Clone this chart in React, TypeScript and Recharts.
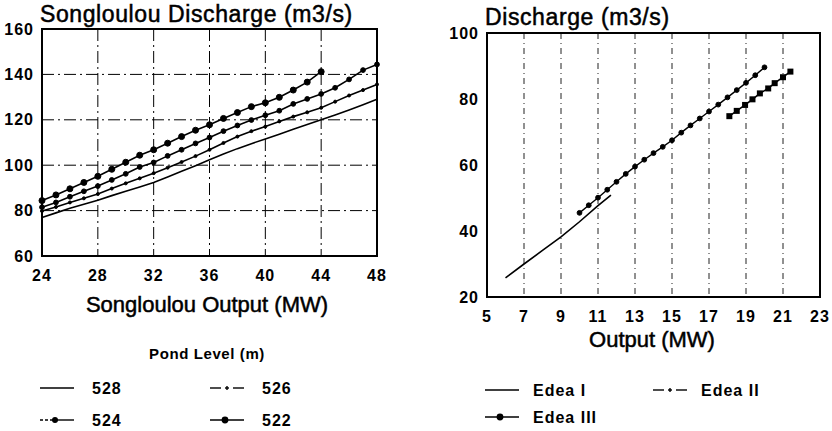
import React from 'react';
import {
  LineChart,
  Line,
  XAxis,
  YAxis,
  CartesianGrid,
  ReferenceArea,
  Legend,
} from 'recharts';

// Songloulou: discharge per output, one curve per pond level
const songloulouOutput = [24, 25, 26, 27, 28, 29, 30, 31, 32, 33, 34, 35, 36, 37, 38, 39, 40, 41, 42, 43, 44, 45, 46, 47, 48];
const pond528 = [77, 79, 81, 82.8, 84.6, 86.6, 88.5, 90.4, 92.4, 94.8, 97.3, 99.8, 102.4, 104.9, 107.3, 109.5, 111.5, 113.6, 115.8, 117.9, 120, 122.1, 124.3, 126.6, 129];
const pond526 = [79.8, 81.6, 83.6, 85.4, 87.3, 89.7, 92, 94.2, 96.5, 98.9, 101.4, 104, 106.8, 109.8, 112.6, 115, 117, 119.3, 121.4, 123.3, 125.3, 128, 130.7, 133.1, 135.6];
const pond524 = [81.5, 83.6, 86.1, 88.5, 90.8, 93.5, 96.2, 99.2, 101.2, 104.1, 106.8, 109.6, 112.2, 115, 117.5, 119.9, 122, 124, 127, 129.2, 131.4, 134.1, 137.8, 141.9, 144.4];
const pond522 = [84.4, 86.9, 89.6, 92.4, 95.1, 98.2, 101.3, 104.4, 106.8, 109.7, 112.6, 115.4, 117.8, 120.6, 123.2, 125.8, 127.5, 129.9, 133.1, 136.6, 141.2, null, null, null, null];

const songloulouXTicks = [24, 28, 32, 36, 40, 44, 48];
const songloulouYTicks = [60, 80, 100, 120, 140, 160];

// Edea plants
const edea1Output = [6, 7, 8, 9, 10, 11, 11.7];
const edea1Discharge = [25.8, 30, 34.1, 38.2, 42.8, 47.7, 50.9];
const edea2Output = [10, 10.5, 11, 11.5, 12, 12.5, 13, 13.5, 14, 14.5, 15, 15.5, 16, 16.5, 17, 17.5, 18, 18.5, 19, 19.5, 20];
const edea2Discharge = [45.5, 47.8, 50.1, 52.5, 54.9, 57.3, 59.5, 61.6, 63.6, 65.5, 67.5, 69.8, 72, 74.1, 76.2, 78.3, 80.5, 82.7, 84.9, 87.2, 89.6];
const edea3Output = [18.1, 18.5, 18.95, 19.35, 19.75, 20.2, 20.55, 21, 21.4];
const edea3Discharge = [74.8, 76.4, 78.2, 79.9, 81.7, 83.2, 84.8, 86.6, 88.3];

const edeaXTicks = [5, 7, 9, 11, 13, 15, 17, 19, 21, 23];
const edeaYTicks = [20, 40, 60, 80, 100];

const songloulouData = songloulouOutput.map((x, i) => ({
  x,
  p528: pond528[i],
  p526: pond526[i],
  p524: pond524[i],
  p522: pond522[i],
}));
const edea1 = edea1Output.map((x, i) => ({ x, y: edea1Discharge[i] }));
const edea2 = edea2Output.map((x, i) => ({ x, y: edea2Discharge[i] }));
const edea3 = edea3Output.map((x, i) => ({ x, y: edea3Discharge[i] }));

const FONT = '"Liberation Sans", Arial, sans-serif';
const tickStyle = { fill: '#000', fontSize: 16, fontWeight: 700, fontFamily: FONT, letterSpacing: 1 };
const titleStyle: React.CSSProperties = {
  position: 'absolute',
  fontSize: 22,
  lineHeight: 1,
  fontFamily: FONT,
  color: '#000',
  WebkitTextStroke: '0.5px #000',
  whiteSpace: 'nowrap',
};
const legendText: React.CSSProperties = {
  position: 'absolute',
  fontSize: 16,
  fontWeight: 700,
  fontFamily: FONT,
  letterSpacing: 1,
  lineHeight: 1,
  whiteSpace: 'nowrap',
};

// sample stroke for the legend
function Sample({ kind }: { kind: string }) {
  return (
    <svg width={34} height={10} style={{ display: 'block' }}>
      {kind === 'solid' && <line x1={0} y1={5} x2={34} y2={5} stroke="#000" strokeWidth={1.6} />}
      {kind === 'plus' && (
        <g stroke="#000" strokeWidth={1.4}>
          <line x1={0} y1={5} x2={11} y2={5} />
          <line x1={15} y1={5} x2={19} y2={5} />
          <line x1={17} y1={3} x2={17} y2={7} />
          <line x1={23} y1={5} x2={34} y2={5} />
        </g>
      )}
      {kind === 'dashdot' && (
        <g stroke="#000" strokeWidth={1.4}>
          <line x1={0} y1={5} x2={13} y2={5} strokeDasharray="3 2" />
          <line x1={13} y1={5} x2={34} y2={5} />
          <circle cx={15} cy={5} r={2.3} fill="#000" />
        </g>
      )}
      {kind === 'dot' && (
        <g stroke="#000" strokeWidth={1.6}>
          <line x1={0} y1={5} x2={34} y2={5} />
          <circle cx={15} cy={5} r={2.6} fill="#000" />
        </g>
      )}
    </svg>
  );
}

type Item = { name: string; kind: string; x: number; y: number };

const pondLegend: Item[] = [
  { name: '528', kind: 'solid', x: 40, y: 48 },
  { name: '526', kind: 'plus', x: 210, y: 48 },
  { name: '524', kind: 'dashdot', x: 40, y: 80 },
  { name: '522', kind: 'dot', x: 210, y: 80 },
];
const edeaLegend: Item[] = [
  { name: 'Edea I', kind: 'solid', x: 65, y: 50 },
  { name: 'Edea II', kind: 'plus', x: 233, y: 50 },
  { name: 'Edea III', kind: 'dot', x: 65, y: 77 },
];

function LegendBlock({ items, heading, width, textGap }: { items: Item[]; heading?: string; width: number; textGap: number }) {
  return (
    <div style={{ position: 'relative', width, height: 90 }}>
      {heading && (
        <div style={{ ...legendText, fontSize: 15, letterSpacing: 0.6, left: 0, width: 414, textAlign: 'center', top: 6 }}>
          {heading}
        </div>
      )}
      {items.map((it) => (
        <React.Fragment key={it.name}>
          <div style={{ position: 'absolute', left: it.x, top: it.y - 5 }}>
            <Sample kind={it.kind} />
          </div>
          <div style={{ ...legendText, left: it.x + textGap, top: it.y - 7 }}>{it.name}</div>
        </React.Fragment>
      ))}
    </div>
  );
}

function SonglouloulChart() {
  return (
    <div style={{ position: 'absolute', left: 0, top: 0, width: 400, height: 431 }}>
      <LineChart width={400} height={431} data={songloulouData} margin={{ top: 29, right: 23, left: 0, bottom: 145 }}>
        <CartesianGrid stroke="#000" strokeWidth={1} strokeDasharray="12 4 2 4" />
        <XAxis
          dataKey="x"
          type="number"
          domain={[24, 48]}
          ticks={songloulouXTicks}
          axisLine={false}
          tickLine={false}
          tickSize={6}
          tickMargin={8}
          height={30}
          tick={tickStyle}
        />
        <YAxis
          type="number"
          domain={[60, 160]}
          ticks={songloulouYTicks}
          axisLine={false}
          tickLine={false}
          width={42}
          tick={tickStyle}
        />
        <ReferenceArea x1={24} x2={48} y1={60} y2={160} fill="none" stroke="#000" strokeWidth={2} />
        <Line dataKey="p528" name="528" stroke="#000" strokeWidth={1.6} dot={false} isAnimationActive={false} />
        <Line dataKey="p526" name="526" stroke="#000" strokeWidth={1.6} dot={{ r: 1.5, fill: '#000', strokeWidth: 1 }} isAnimationActive={false} />
        <Line dataKey="p524" name="524" stroke="#000" strokeWidth={1.6} dot={{ r: 2.4, fill: '#000', strokeWidth: 1 }} isAnimationActive={false} />
        <Line dataKey="p522" name="522" stroke="#000" strokeWidth={1.6} dot={{ r: 3, fill: '#000', strokeWidth: 1 }} isAnimationActive={false} connectNulls={false} />
        <Legend
          layout="horizontal"
          verticalAlign="middle"
          wrapperStyle={{ left: 0, top: 340, width: 400 }}
          content={() => <LegendBlock items={pondLegend} heading="Pond Level (m)" width={400} textGap={52} />}
        />
      </LineChart>
      <div style={{ ...titleStyle, fontSize: 23, letterSpacing: 0.6, left: 40, top: 3 }}>Songloulou Discharge (m3/s)</div>
      <div style={{ ...titleStyle, left: 0, width: 414, textAlign: 'center', top: 294 }}>Songloulou Output (MW)</div>
    </div>
  );
}

function EdeaChart() {
  return (
    <div style={{ position: 'absolute', left: 420, top: 0, width: 412, height: 431 }}>
      <LineChart width={412} height={431} margin={{ top: 33, right: 12, left: 0, bottom: 104 }}>
        <CartesianGrid stroke="#222" strokeWidth={1} strokeDasharray="6 4 1 4" horizontal={false} />
        <XAxis
          dataKey="x"
          type="number"
          domain={[5, 23]}
          ticks={edeaXTicks}
          axisLine={false}
          tickLine={false}
          tickSize={6}
          tickMargin={8}
          height={30}
          tick={tickStyle}
          allowDataOverflow
        />
        <YAxis
          type="number"
          domain={[20, 100]}
          ticks={edeaYTicks}
          axisLine={false}
          tickLine={false}
          width={67}
          tick={tickStyle}
          allowDataOverflow
        />
        <ReferenceArea x1={5} x2={23} y1={20} y2={100} fill="none" stroke="#000" strokeWidth={2} />
        <Line data={edea1} dataKey="y" name="Edea I" stroke="#000" strokeWidth={1.6} dot={false} isAnimationActive={false} />
        <Line data={edea2} dataKey="y" name="Edea II" stroke="#000" strokeWidth={1.4} dot={{ r: 2.4, fill: '#000', strokeWidth: 1 }} isAnimationActive={false} />
        <Line
          data={edea3}
          dataKey="y"
          name="Edea III"
          stroke="#000"
          strokeWidth={1.6}
          isAnimationActive={false}
          dot={(p: any) => <rect key={`e3-${p.index}`} x={p.cx - 3} y={p.cy - 3} width={6} height={6} fill="#000" />}
        />
        <Legend
          layout="horizontal"
          verticalAlign="middle"
          wrapperStyle={{ left: 0, top: 340, width: 412 }}
          content={() => <LegendBlock items={edeaLegend} width={412} textGap={48} />}
        />
      </LineChart>
      <div style={{ ...titleStyle, fontSize: 23, letterSpacing: 0.6, left: 65, top: 6 }}>Discharge (m3/s)</div>
      <div style={{ ...titleStyle, left: 167, width: 130, textAlign: 'center', top: 329 }}>Output (MW)</div>
    </div>
  );
}

export default function App() {
  return (
    <div style={{ position: 'absolute', left: 0, top: 0, width: 832, height: 431, background: '#fff', fontFamily: FONT }}>
      <SonglouloulChart />
      <EdeaChart />
    </div>
  );
}
